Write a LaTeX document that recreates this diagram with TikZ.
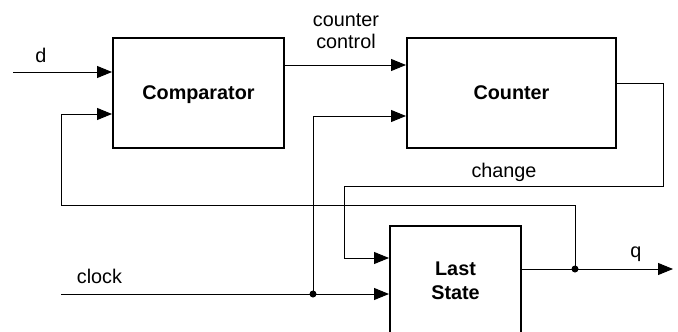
\documentclass[tikz,border=0pt]{standalone}
\usepackage{fontspec}
\setmainfont{Liberation Sans}
\usetikzlibrary{arrows.meta, calc, positioning}

\begin{document}
\begin{tikzpicture}[x=1pt, y=-1pt, line width=1pt,
		>={Triangle[length=15pt, width=12pt]},
		font=\fontsize{19.8}{22}\selectfont,
		Block/.style={
			draw,
			line width=2pt,
			font=\fontsize{19.8}{24}\selectfont\bfseries,
			align=center,
			text depth=0pt,
			inner sep=0pt
		},
		Dot/.style={circle, fill, inner sep=0pt, minimum size=7pt},
		Lbl/.style={anchor=base, inner sep=0pt}]
		\clip (0,0) rectangle (678,332);
		% Blocks
		\node[Block, minimum width=171pt, minimum height=110pt] (Comp) at (198.5,93) {Comparator};
		\node[Block, minimum width=209pt, minimum height=110pt] (Cnt) at (511.5,93) {Counter};
		\node[Block, minimum width=131pt, minimum height=110pt] (Last) at (455.5,281) {Last\\State};
		% Points of the wires
		\coordinate (d) at (13,72);
		\coordinate (ctrl) at (0,65);
		\coordinate (clk) at (61,294);
		\coordinate (cntin) at (0,116);
		\coordinate (cntout) at (0,83);
		\coordinate (chgR) at (663,186);
		\coordinate (chgL) at (344,258);
		\coordinate (qout) at (673,269);
		\coordinate (fbk) at (61,205);
		\coordinate (cmpin) at (0,114);
		\node[Dot] (J1) at (313,294) {};
		\node[Dot] (J2) at (575,269) {};
		% Wires
		\draw[->] (d) -- (d -| Comp.west);
		\draw[->] (Comp.east |- ctrl) -- (ctrl -| Cnt.west);
		\draw[->] (clk) -- (clk -| Last.west);
		\draw[->] (J1.center) |- (cntin -| Cnt.west);
		\draw[->] (Cnt.east |- cntout) -| (chgR) -| (chgL) -- (chgL -| Last.west);
		\draw[->] (Last.east |- qout) -- (qout);
		\draw[->] (J2.center) |- (fbk) |- (cmpin -| Comp.west);
		% Labels
		\node[Lbl] (dLbl) at (41,62) {d};
		\node[align=center, inner sep=0pt] (ctrlLbl) at (346,31) {counter\\control};
		\node[Lbl] (clkLbl) at (99.5,283) {clock};
		\node[Lbl] (chgLbl) at (504,177) {change};
		\node[Lbl] (qLbl) at (636,257) {q};
	\end{tikzpicture}
\end{document}
